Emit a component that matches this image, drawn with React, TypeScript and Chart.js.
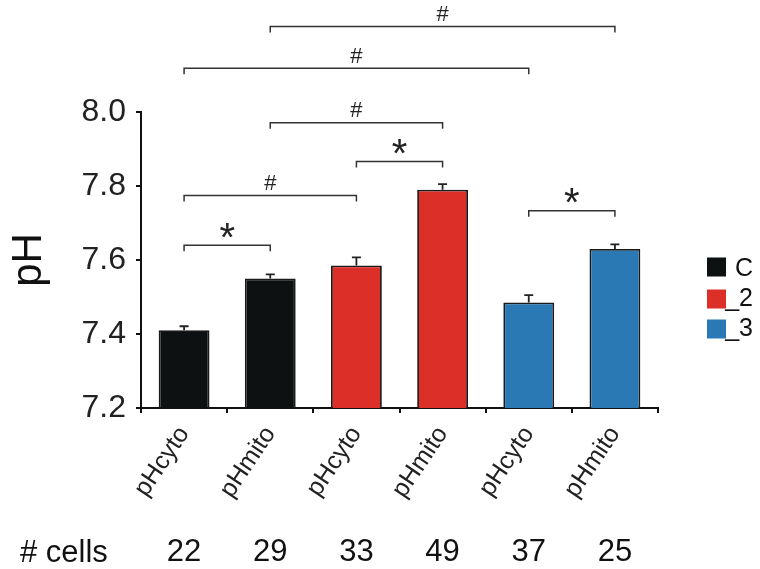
import React, { useEffect, useRef } from 'react';
import { Chart, registerables } from 'chart.js';

Chart.register(...registerables);

const categories = ['pHcyto', 'pHmito', 'pHcyto', 'pHmito', 'pHcyto', 'pHmito'];
const phValues = [7.41, 7.55, 7.585, 7.79, 7.485, 7.63];
const phErrors = [0.011, 0.011, 0.022, 0.015, 0.02, 0.012];
const cellCounts = [22, 29, 33, 49, 37, 25];
const barGroup = [0, 0, 1, 1, 2, 2];
const legendLabels = ['C', '_2', '_3'];
const legendColors = ['#0e1112', '#db2f28', '#2a78b4'];
const yTicks = [7.2, 7.4, 7.6, 7.8, 8.0];
const bracketFrom = [0, 0, 2, 4, 1, 0, 1];
const bracketTo = [1, 2, 3, 5, 3, 4, 5];
const bracketLevel = [7.64, 7.774, 7.866, 7.733, 7.971, 8.118, 8.231];
const bracketMarks = ['*', '#', '*', '*', '#', '#', '#'];

const FONT = '"Liberation Sans", Arial, Helvetica, sans-serif';

function drawCenteredText(ctx: CanvasRenderingContext2D, text: string, x: number, cy: number, align: CanvasTextAlign) {
  ctx.textAlign = align;
  ctx.textBaseline = 'alphabetic';
  const m = ctx.measureText(text);
  const asc = m.actualBoundingBoxAscent;
  const desc = m.actualBoundingBoxDescent;
  const base = cy - (desc - asc) / 2;
  ctx.fillText(text, x, base);
}

const overlayPlugin = {
  id: 'overlay',
  afterDatasetsDraw(chart: any) {
    const ctx: CanvasRenderingContext2D = chart.ctx;
    const xs = chart.scales.x;
    const ys = chart.scales.y;
    ctx.save();
    // error bars
    ctx.strokeStyle = '#222';
    ctx.lineWidth = 1.8;
    phValues.forEach((v, i) => {
      const x = xs.getPixelForValue(i);
      const y0 = ys.getPixelForValue(v);
      const y1 = ys.getPixelForValue(v + phErrors[i]);
      ctx.beginPath();
      ctx.moveTo(x, y0);
      ctx.lineTo(x, y1);
      ctx.moveTo(x - 4.5, y1);
      ctx.lineTo(x + 4.5, y1);
      ctx.stroke();
    });
    // significance brackets
    ctx.strokeStyle = '#333';
    ctx.lineWidth = 1.5;
    ctx.fillStyle = '#222';
    bracketFrom.forEach((a, k) => {
      const xa = xs.getPixelForValue(a);
      const xb = xs.getPixelForValue(bracketTo[k]);
      const y = ys.getPixelForValue(bracketLevel[k]);
      ctx.beginPath();
      ctx.moveTo(xa, y + 6);
      ctx.lineTo(xa, y);
      ctx.lineTo(xb, y);
      ctx.lineTo(xb, y + 6);
      ctx.stroke();
      const mark = bracketMarks[k];
      if (mark === '*') {
        ctx.font = `40px ${FONT}`;
        drawCenteredText(ctx, mark, (xa + xb) / 2, y - 15, 'center');
      } else {
        ctx.font = `22px ${FONT}`;
        drawCenteredText(ctx, mark, (xa + xb) / 2, y - 13, 'center');
      }
    });
    ctx.restore();
  },
  afterDraw(chart: any) {
    const ctx: CanvasRenderingContext2D = chart.ctx;
    const xs = chart.scales.x;
    ctx.save();
    // legend
    const rows = [267, 299, 329];
    legendLabels.forEach((lab, i) => {
      ctx.fillStyle = legendColors[i];
      ctx.fillRect(707, rows[i] - 9.5, 19, 19);
      ctx.fillStyle = '#111';
      ctx.font = `25px ${FONT}`;
      drawCenteredText(ctx, lab, 753, rows[i], 'right');
    });
    // cell counts row
    ctx.fillStyle = '#111';
    ctx.font = `31px ${FONT}`;
    drawCenteredText(ctx, '# cells', 20, 550, 'left');
    cellCounts.forEach((n, i) => {
      drawCenteredText(ctx, String(n), xs.getPixelForValue(i), 550, 'center');
    });
    ctx.restore();
  },
};

export default function App() {
  const ref = useRef<HTMLCanvasElement>(null);
  useEffect(() => {
    if (!ref.current) return;
    const chart = new Chart(ref.current, {
      type: 'bar',
      data: {
        labels: categories,
        datasets: [
          {
            label: 'pH',
            data: phValues,
            backgroundColor: barGroup.map((g) => legendColors[g]),
            borderColor: '#1a1a1a',
            borderWidth: 1.8,
            borderSkipped: false,
            barPercentage: 0.59,
            categoryPercentage: 1,
          },
        ],
      },
      options: {
        responsive: false,
        animation: false,
        devicePixelRatio: 1,
        layout: { padding: { top: 112, right: 102, bottom: 61, left: 0 } },
        plugins: { legend: { display: false }, tooltip: { enabled: false } },
        scales: {
          x: {
            afterFit: (s: any) => {
              s.height = 100;
            },
            border: { display: true, color: '#111', width: 2 },
            grid: { display: true, drawOnChartArea: false, drawTicks: true, tickLength: 5, color: '#111', lineWidth: 2, offset: true },
            ticks: {
              minRotation: 56,
              maxRotation: 56,
              padding: 8,
              color: '#222',
              font: { family: FONT, size: 25 },
            },
          },
          y: {
            min: 7.2,
            max: 8.0,
            afterFit: (s: any) => {
              s.width = 141;
            },
            afterBuildTicks: (s: any) => {
              s.ticks = yTicks.map((v) => ({ value: v }));
            },
            border: { display: true, color: '#111', width: 2 },
            grid: { display: true, drawOnChartArea: false, drawTicks: true, tickLength: 5, color: '#111', lineWidth: 2 },
            ticks: {
              padding: 10,
              color: '#222',
              font: { family: FONT, size: 32 },
              callback: (v: any) => Number(v).toFixed(1),
            },
            title: {
              display: true,
              text: 'pH',
              color: '#111',
              font: { family: FONT, size: 42 },
              padding: { top: 4, bottom: 0 },
            },
          },
        },
      },
      plugins: [overlayPlugin],
    });
    return () => chart.destroy();
  }, []);
  return (
    <div style={{ position: 'fixed', left: 0, top: 0, width: 760, height: 569, background: '#fff' }}>
      <canvas ref={ref} width={760} height={569} style={{ width: 760, height: 569, display: 'block' }} />
    </div>
  );
}
